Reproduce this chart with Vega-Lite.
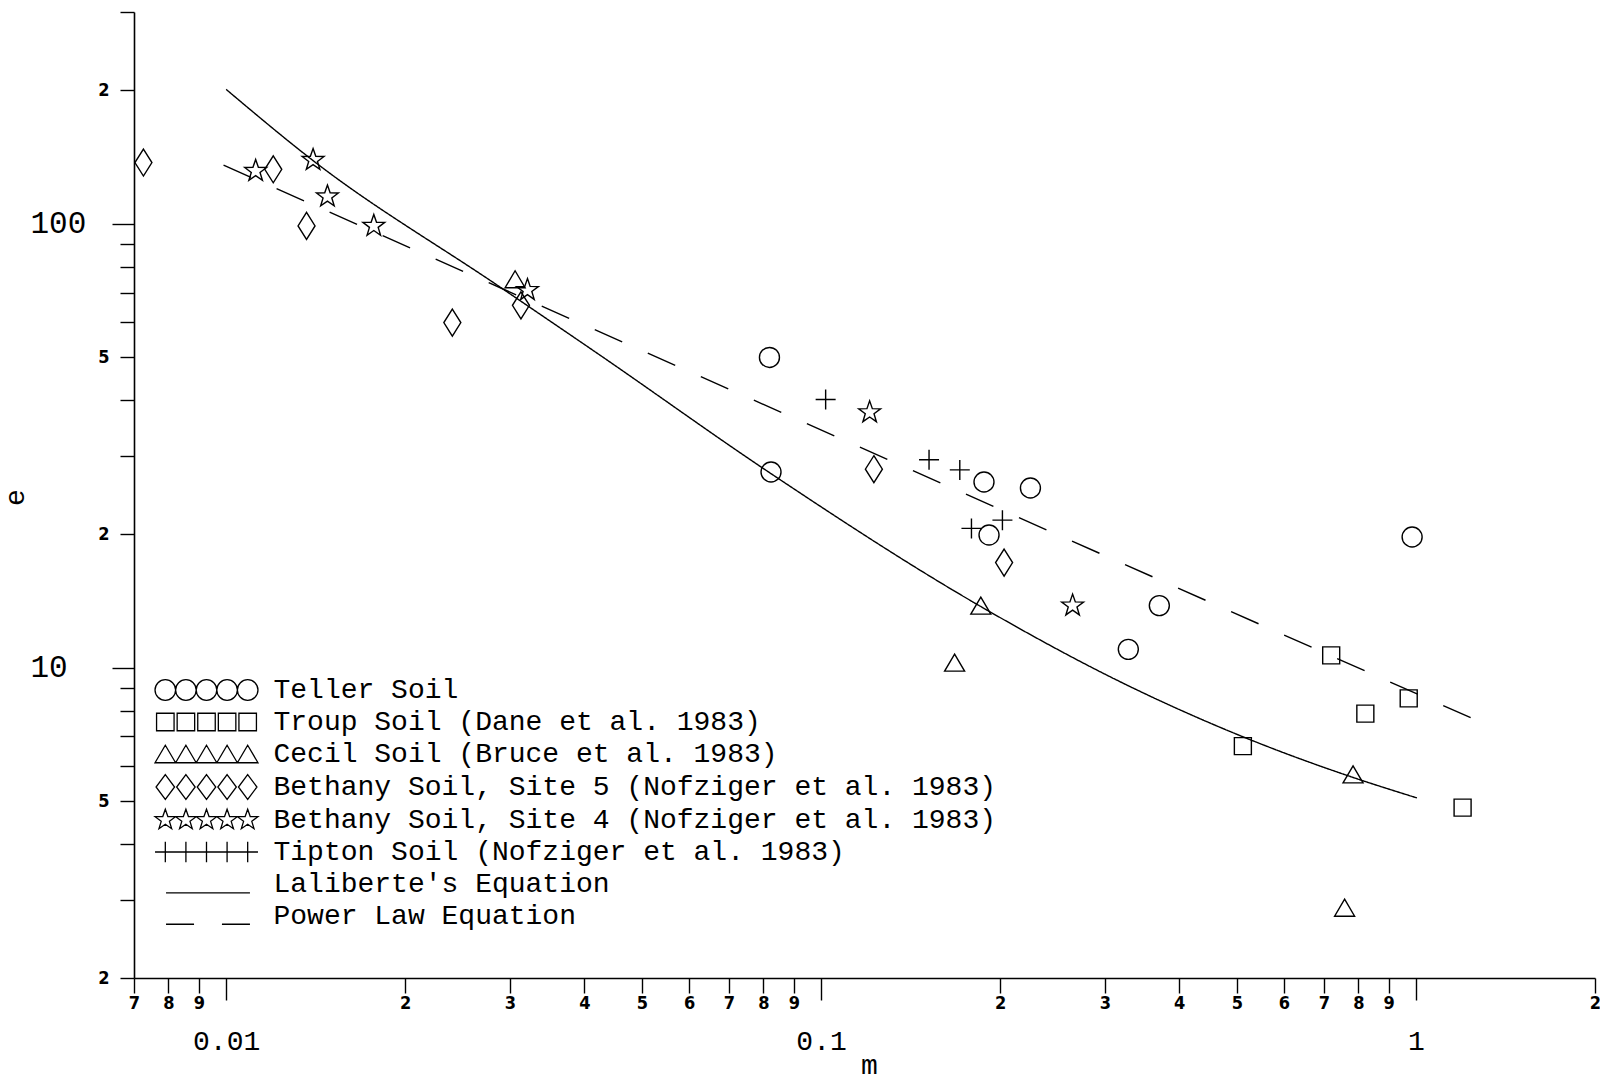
{
  "$schema": "https://vega.github.io/schema/vega-lite/v6.json",
  "width": 1461,
  "height": 966,
  "autosize": {"type": "none"},
  "padding": {"left": 134, "top": 12, "right": 5, "bottom": 102},
  "background": "white",
  "config": {
    "view": {"stroke": null},
    "axis": {"grid": false, "domainColor": "black", "tickColor": "black", "labelColor": "black", "titleColor": "black"}
  },
  "datasets": {
    "points": [
      {"series": "Teller Soil", "m": 0.0819, "e": 50.0},
      {"series": "Teller Soil", "m": 0.0824, "e": 27.6},
      {"series": "Teller Soil", "m": 0.1879, "e": 26.2},
      {"series": "Teller Soil", "m": 0.2249, "e": 25.4},
      {"series": "Teller Soil", "m": 0.1916, "e": 19.9},
      {"series": "Teller Soil", "m": 0.3285, "e": 11.0},
      {"series": "Teller Soil", "m": 0.3704, "e": 13.8},
      {"series": "Teller Soil", "m": 0.9854, "e": 19.7},
      {"series": "Troup Soil (Dane et al. 1983)", "m": 0.7204, "e": 10.66},
      {"series": "Troup Soil (Dane et al. 1983)", "m": 0.5118, "e": 6.66},
      {"series": "Troup Soil (Dane et al. 1983)", "m": 0.8222, "e": 7.88},
      {"series": "Troup Soil (Dane et al. 1983)", "m": 0.9725, "e": 8.53},
      {"series": "Troup Soil (Dane et al. 1983)", "m": 1.198, "e": 4.84},
      {"series": "Cecil Soil (Bruce et al. 1983)", "m": 0.0306, "e": 75.0},
      {"series": "Cecil Soil (Bruce et al. 1983)", "m": 0.1856, "e": 13.8},
      {"series": "Cecil Soil (Bruce et al. 1983)", "m": 0.1677, "e": 10.27},
      {"series": "Cecil Soil (Bruce et al. 1983)", "m": 0.784, "e": 5.75},
      {"series": "Cecil Soil (Bruce et al. 1983)", "m": 0.7588, "e": 2.88},
      {"series": "Bethany Soil, Site 5 (Nofziger et al. 1983)", "m": 0.00726, "e": 137.4},
      {"series": "Bethany Soil, Site 5 (Nofziger et al. 1983)", "m": 0.012, "e": 132.7},
      {"series": "Bethany Soil, Site 5 (Nofziger et al. 1983)", "m": 0.01365, "e": 98.9},
      {"series": "Bethany Soil, Site 5 (Nofziger et al. 1983)", "m": 0.024, "e": 59.9},
      {"series": "Bethany Soil, Site 5 (Nofziger et al. 1983)", "m": 0.0313, "e": 65.5},
      {"series": "Bethany Soil, Site 5 (Nofziger et al. 1983)", "m": 0.1227, "e": 28.0},
      {"series": "Bethany Soil, Site 5 (Nofziger et al. 1983)", "m": 0.2031, "e": 17.25},
      {"series": "Bethany Soil, Site 4 (Nofziger et al. 1983)", "m": 0.01121, "e": 131.5},
      {"series": "Bethany Soil, Site 4 (Nofziger et al. 1983)", "m": 0.014, "e": 139.2},
      {"series": "Bethany Soil, Site 4 (Nofziger et al. 1983)", "m": 0.0148, "e": 115.2},
      {"series": "Bethany Soil, Site 4 (Nofziger et al. 1983)", "m": 0.01771, "e": 98.9},
      {"series": "Bethany Soil, Site 4 (Nofziger et al. 1983)", "m": 0.0321, "e": 70.9},
      {"series": "Bethany Soil, Site 4 (Nofziger et al. 1983)", "m": 0.1207, "e": 37.6},
      {"series": "Bethany Soil, Site 4 (Nofziger et al. 1983)", "m": 0.2648, "e": 13.8},
      {"series": "Tipton Soil (Nofziger et al. 1983)", "m": 0.1018, "e": 40.2},
      {"series": "Tipton Soil (Nofziger et al. 1983)", "m": 0.1519, "e": 29.4},
      {"series": "Tipton Soil (Nofziger et al. 1983)", "m": 0.1711, "e": 27.9},
      {"series": "Tipton Soil (Nofziger et al. 1983)", "m": 0.179, "e": 20.6},
      {"series": "Tipton Soil (Nofziger et al. 1983)", "m": 0.2018, "e": 21.5}
    ],
    "curves": [
      {"series": "Laliberte's Equation", "m": 0.01, "e": 200.8},
      {"series": "Laliberte's Equation", "m": 0.014, "e": 138.8},
      {"series": "Laliberte's Equation", "m": 0.02886, "e": 72.05},
      {"series": "Laliberte's Equation", "m": 0.0425, "e": 50.6},
      {"series": "Laliberte's Equation", "m": 0.08208, "e": 27.46},
      {"series": "Laliberte's Equation", "m": 0.185, "e": 13.77},
      {"series": "Laliberte's Equation", "m": 0.3267, "e": 9.14},
      {"series": "Laliberte's Equation", "m": 0.52, "e": 6.93},
      {"series": "Laliberte's Equation", "m": 0.7809, "e": 5.67},
      {"series": "Laliberte's Equation", "m": 1.004, "e": 5.09},
      {"series": "Power Law Equation", "m": 0.0099, "e": 135.5},
      {"series": "Power Law Equation", "m": 1.254, "e": 7.65}
    ]
  },
  "layer": [
    {
      "data": {"name": "curves"},
      "mark": {"type": "line", "stroke": "black", "strokeWidth": 1.4, "interpolate": "monotone"},
      "encoding": {
        "x": {
          "field": "m", "type": "quantitative",
          "scale": {"type": "log", "domain": [0.007, 2], "nice": false, "zero": false},
          "axis": {
            "title": "m", "titleFont": "Liberation Mono", "titleFontSize": 28, "titleFontWeight": "normal",
            "titleX": 735, "titleY": 95, "titleAlign": "center", "titleBaseline": "alphabetic",
            "values": [0.007, 0.008, 0.009, 0.01, 0.02, 0.03, 0.04, 0.05, 0.06, 0.07, 0.08, 0.09, 0.1, 0.2, 0.3, 0.4, 0.5, 0.6, 0.7, 0.8, 0.9, 1, 2],
            "labelExpr": "datum.value == 0.01 ? '0.01' : datum.value == 0.1 ? '0.1' : datum.value == 1 ? '1' : '' + round(datum.value * pow(10, -floor(log(datum.value) / LN10 + 1e-6)))",
            "labelFlush": false, "labelOverlap": false, "labelBound": false,
            "domainWidth": 1.6, "tickWidth": 1.4,
            "tickSize": {"condition": {"test": "datum.value == 0.01 || datum.value == 0.1 || datum.value == 1", "value": 22}, "value": 15},
            "labelFontSize": {"condition": {"test": "datum.value == 0.01 || datum.value == 0.1 || datum.value == 1", "value": 28}, "value": 18},
            "labelFont": {"condition": {"test": "datum.value == 0.01 || datum.value == 0.1 || datum.value == 1", "value": "Liberation Mono"}, "value": "Liberation Sans Narrow, DejaVu Sans Condensed, Liberation Sans"},
            "labelFontWeight": {"condition": {"test": "datum.value == 0.01 || datum.value == 0.1 || datum.value == 1", "value": "normal"}, "value": "bold"},
            "labelPadding": {"condition": {"test": "datum.value == 0.01 || datum.value == 0.1 || datum.value == 1", "value": 27}, "value": 1}
          }
        },
        "y": {
          "field": "e", "type": "quantitative",
          "scale": {"type": "log", "domain": [2, 300], "nice": false, "zero": false},
          "axis": {
            "title": "e", "titleFont": "Liberation Mono", "titleFontSize": 28, "titleFontWeight": "normal",
            "titleX": -119, "titleY": 485, "titleAlign": "center", "titleBaseline": "middle",
            "values": [2, 3, 4, 5, 6, 7, 8, 9, 10, 20, 30, 40, 50, 60, 70, 80, 90, 100, 200, 300],
            "labelExpr": "datum.value == 10 ? '10' : datum.value == 100 ? '100' : (datum.value == 2 || datum.value == 20 || datum.value == 200) ? '2' : (datum.value == 5 || datum.value == 50) ? '5' : ''",
            "labelOverlap": false, "labelBound": false, "labelFlush": false,
            "domainWidth": 1.6, "tickWidth": 1.4,
            "tickSize": {"condition": {"test": "datum.value == 10 || datum.value == 100", "value": 22}, "value": 14},
            "labelFontSize": {"condition": {"test": "datum.value == 10 || datum.value == 100", "value": 31}, "value": 18},
            "labelFont": {"condition": {"test": "datum.value == 10 || datum.value == 100", "value": "Liberation Mono"}, "value": "Liberation Sans Narrow, DejaVu Sans Condensed, Liberation Sans"},
            "labelFontWeight": {"condition": {"test": "datum.value == 10 || datum.value == 100", "value": "normal"}, "value": "bold"},
            "labelAlign": {"condition": {"test": "datum.value == 10 || datum.value == 100", "value": "left"}, "value": "right"},
            "labelPadding": {"condition": {"test": "datum.value == 10 || datum.value == 100", "value": 82}, "value": 11}
          }
        },
        "strokeDash": {
          "field": "series", "type": "nominal",
          "scale": {"domain": ["Laliberte's Equation", "Power Law Equation"], "range": [[1, 0], [30, 28]]},
          "legend": null
        }
      }
    },
    {
      "data": {"name": "points"},
      "mark": {"type": "point", "filled": false, "strokeWidth": 1.4, "size": 400, "opacity": 1},
      "encoding": {
        "x": {"field": "m", "type": "quantitative"},
        "y": {"field": "e", "type": "quantitative"},
        "shape": {
          "field": "series", "type": "nominal",
          "scale": {
            "domain": ["Teller Soil", "Troup Soil (Dane et al. 1983)", "Cecil Soil (Bruce et al. 1983)", "Bethany Soil, Site 5 (Nofziger et al. 1983)", "Bethany Soil, Site 4 (Nofziger et al. 1983)", "Tipton Soil (Nofziger et al. 1983)"],
            "range": ["circle", "M-0.85,-0.85H0.85V0.85H-0.85Z", "M0,-0.85L1,0.85H-1Z", "M0,-1.35L0.85,0L0,1.35L-0.85,0Z", "M0,-1.15L0.27,-0.372L1.094,-0.355L0.437,0.142L0.676,0.93L0,0.46L-0.676,0.93L-0.437,0.142L-1.094,-0.355L-0.27,-0.372Z", "M-1,0H1M0,-1V1"]
          },
          "legend": null
        },
        "stroke": {
          "field": "series", "type": "nominal",
          "scale": {
            "domain": ["Teller Soil", "Troup Soil (Dane et al. 1983)", "Cecil Soil (Bruce et al. 1983)", "Bethany Soil, Site 5 (Nofziger et al. 1983)", "Bethany Soil, Site 4 (Nofziger et al. 1983)", "Tipton Soil (Nofziger et al. 1983)", "Laliberte's Equation", "Power Law Equation"],
            "range": ["black", "black", "black", "black", "black", "black", "black", "black"]
          },
          "legend": {
            "title": null, "orient": "none", "legendX": 21, "legendY": 664, "padding": 0, "offset": 0,
            "symbolSize": 424, "symbolStrokeWidth": 1.3, "symbolFillColor": "transparent",
            "symbolOffset": 37.5, "labelOffset": 53,
            "labelFont": "Liberation Mono", "labelFontSize": 28, "labelColor": "black", "labelLimit": 1000,
            "rowPadding": 4, "symbolLimit": 0,
            "symbolType": {"expr": "indexof(datum.value,'Teller')>=0 ? 'M-3,0C-3,0.5523,-3.4477,1,-4,1C-4.5523,1,-5,0.5523,-5,0C-5,-0.5523,-4.5523,-1,-4,-1C-3.4477,-1,-3,-0.5523,-3,0ZM-1,0C-1,0.5523,-1.4477,1,-2,1C-2.5523,1,-3,0.5523,-3,0C-3,-0.5523,-2.5523,-1,-2,-1C-1.4477,-1,-1,-0.5523,-1,0ZM1,0C1,0.5523,0.5523,1,0,1C-0.5523,1,-1,0.5523,-1,0C-1,-0.5523,-0.5523,-1,0,-1C0.5523,-1,1,-0.5523,1,0ZM3,0C3,0.5523,2.5523,1,2,1C1.4477,1,1,0.5523,1,0C1,-0.5523,1.4477,-1,2,-1C2.5523,-1,3,-0.5523,3,0ZM5,0C5,0.5523,4.5523,1,4,1C3.4477,1,3,0.5523,3,0C3,-0.5523,3.4477,-1,4,-1C4.5523,-1,5,-0.5523,5,0Z' : indexof(datum.value,'Troup')>=0 ? 'M-4.85,-0.85H-3.15V0.85H-4.85ZM-2.85,-0.85H-1.15V0.85H-2.85ZM-0.85,-0.85H0.85V0.85H-0.85ZM1.15,-0.85H2.85V0.85H1.15ZM3.15,-0.85H4.85V0.85H3.15Z' : indexof(datum.value,'Cecil')>=0 ? 'M-4,-0.85L-3,0.85H-5ZM-2,-0.85L-1,0.85H-3ZM0,-0.85L1,0.85H-1ZM2,-0.85L3,0.85H1ZM4,-0.85L5,0.85H3Z' : indexof(datum.value,'Site 5')>=0 ? 'M-4,-1.2L-3.1,0L-4,1.2L-4.9,0ZM-2,-1.2L-1.1,0L-2,1.2L-2.9,0ZM0,-1.2L0.9,0L0,1.2L-0.9,0ZM2,-1.2L2.9,0L2,1.2L1.1,0ZM4,-1.2L4.9,0L4,1.2L3.1,0Z' : indexof(datum.value,'Site 4')>=0 ? 'M-4,-1.05L-3.753,-0.34L-3.001,-0.324L-3.601,0.13L-3.383,0.849L-4,0.42L-4.617,0.849L-4.399,0.13L-4.999,-0.324L-4.247,-0.34ZM-2,-1.05L-1.753,-0.34L-1.001,-0.324L-1.601,0.13L-1.383,0.849L-2,0.42L-2.617,0.849L-2.399,0.13L-2.999,-0.324L-2.247,-0.34ZM0,-1.05L0.247,-0.34L0.999,-0.324L0.399,0.13L0.617,0.849L0,0.42L-0.617,0.849L-0.399,0.13L-0.999,-0.324L-0.247,-0.34ZM2,-1.05L2.247,-0.34L2.999,-0.324L2.399,0.13L2.617,0.849L2,0.42L1.383,0.849L1.601,0.13L1.001,-0.324L1.753,-0.34ZM4,-1.05L4.247,-0.34L4.999,-0.324L4.399,0.13L4.617,0.849L4,0.42L3.383,0.849L3.601,0.13L3.001,-0.324L3.753,-0.34Z' : indexof(datum.value,'Tipton')>=0 ? 'M-5,0H5M-4,-1V1M-2,-1V1M0,-1V1M2,-1V1M4,-1V1' : indexof(datum.value,'Laliberte')>=0 ? 'M-3.93,0.87H4.22' : 'M-3.93,0.8H-1.21M1.5,0.8H4.22'"}
          }
        }
      }
    }
  ]
}
